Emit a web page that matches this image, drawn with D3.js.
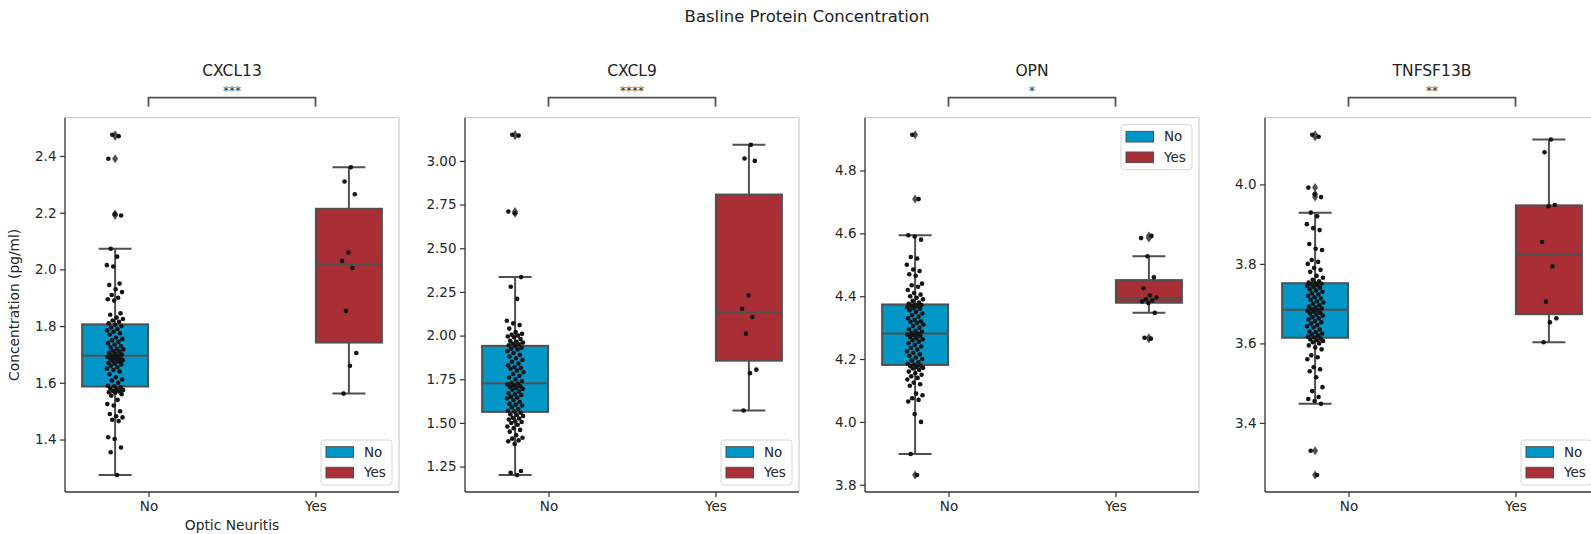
<!DOCTYPE html>
<html>
<head>
<meta charset="utf-8">
<script src="https://cdn.jsdelivr.net/npm/d3@7"></script>
<style>
  body { margin: 0; background: #fff; }
  svg { font-family: 'DejaVu Sans', sans-serif; display: block; }
</style>
</head>
<body>
<svg id="chart"></svg>
<script>
const width = 1591;
const height = 534;

// ---- data ----
const genes = ['CXCL13', 'CXCL9', 'OPN', 'TNFSF13B'];
const signif = ['***', '****', '*', '**'];
const groups = ['No', 'Yes'];

const cxcl13No = [1.275, 1.355, 1.372, 1.402, 1.408, 1.465, 1.47, 1.478, 1.482, 1.49, 1.50, 1.52,
  1.525, 1.54, 1.555, 1.56, 1.565, 1.567, 1.57, 1.572, 1.575, 1.578, 1.58, 1.584,
  1.588, 1.59, 1.6, 1.608, 1.612, 1.62, 1.63, 1.64, 1.645, 1.65, 1.655, 1.66,
  1.665, 1.668, 1.67, 1.675, 1.678, 1.68, 1.683, 1.685, 1.688, 1.69, 1.692, 1.694,
  1.697, 1.70, 1.703, 1.706, 1.71, 1.713, 1.718, 1.72, 1.725, 1.73, 1.735, 1.74,
  1.745, 1.75, 1.755, 1.76, 1.77, 1.775, 1.78, 1.785, 1.79, 1.795, 1.80, 1.805,
  1.81, 1.815, 1.82, 1.825, 1.83, 1.84, 1.845, 1.89, 1.895, 1.90, 1.91, 1.92,
  1.93, 1.945, 1.95, 2.01, 2.015, 2.045, 2.073, 2.19, 2.195, 2.39, 2.47, 2.475];
const cxcl13Yes = [2.36, 2.31, 2.265, 2.06, 2.03, 2.005, 1.853, 1.705, 1.66, 1.562];

const cxcl9No = [1.202, 1.215, 1.225, 1.38, 1.395, 1.40, 1.41, 1.415, 1.43, 1.45, 1.46, 1.47,
  1.48, 1.49, 1.50, 1.505, 1.51, 1.52, 1.525, 1.53, 1.54, 1.545, 1.55, 1.558,
  1.565, 1.57, 1.58, 1.59, 1.60, 1.605, 1.61, 1.62, 1.63, 1.64, 1.645, 1.65,
  1.66, 1.665, 1.67, 1.68, 1.69, 1.695, 1.70, 1.705, 1.71, 1.715, 1.72, 1.725,
  1.73, 1.74, 1.75, 1.76, 1.77, 1.78, 1.79, 1.80, 1.81, 1.815, 1.82, 1.83,
  1.84, 1.85, 1.86, 1.87, 1.88, 1.89, 1.90, 1.91, 1.92, 1.925, 1.93, 1.94,
  1.945, 1.95, 1.955, 1.96, 1.965, 1.97, 1.98, 1.99, 1.995, 2.0, 2.005, 2.01,
  2.02, 2.04, 2.06, 2.07, 2.085, 2.21, 2.28, 2.335, 2.70, 2.71, 3.145, 3.15];
const cxcl9Yes = [3.092, 3.014, 3.0, 2.23, 2.154, 2.106, 2.011, 1.805, 1.785, 1.571];

const opnNo = [3.831, 3.898, 4.0, 4.025, 4.065, 4.07, 4.075, 4.085, 4.09, 4.115, 4.12, 4.125,
  4.135, 4.14, 4.145, 4.15, 4.155, 4.16, 4.165, 4.17, 4.172, 4.175, 4.177, 4.179,
  4.182, 4.185, 4.19, 4.195, 4.2, 4.205, 4.21, 4.215, 4.22, 4.225, 4.23, 4.235,
  4.24, 4.245, 4.25, 4.255, 4.26, 4.263, 4.266, 4.27, 4.273, 4.276, 4.278, 4.28,
  4.283, 4.287, 4.29, 4.295, 4.3, 4.305, 4.31, 4.315, 4.318, 4.32, 4.325, 4.33,
  4.335, 4.34, 4.345, 4.35, 4.355, 4.36, 4.362, 4.365, 4.368, 4.37, 4.372, 4.373,
  4.376, 4.38, 4.385, 4.39, 4.395, 4.40, 4.405, 4.41, 4.42, 4.43, 4.435, 4.44,
  4.465, 4.47, 4.48, 4.485, 4.50, 4.52, 4.525, 4.58, 4.59, 4.594, 4.709, 4.914];
const opnYes = [4.265, 4.268, 4.347, 4.378, 4.383, 4.386, 4.39, 4.396, 4.403, 4.425, 4.46,
  4.527, 4.585, 4.592];

const tnfNo = [3.269, 3.33, 3.448, 3.455, 3.46, 3.465, 3.48, 3.49, 3.515, 3.53, 3.535, 3.54,
  3.56, 3.565, 3.57, 3.585, 3.59, 3.595, 3.60, 3.603, 3.606, 3.608, 3.61, 3.612,
  3.615, 3.617, 3.62, 3.622, 3.625, 3.628, 3.63, 3.635, 3.64, 3.643, 3.646, 3.65,
  3.653, 3.656, 3.66, 3.663, 3.666, 3.67, 3.672, 3.675, 3.677, 3.68, 3.682, 3.683,
  3.686, 3.688, 3.69, 3.693, 3.696, 3.70, 3.703, 3.706, 3.71, 3.713, 3.716, 3.72,
  3.723, 3.726, 3.73, 3.733, 3.736, 3.74, 3.742, 3.745, 3.747, 3.749, 3.75, 3.751,
  3.753, 3.756, 3.76, 3.765, 3.77, 3.78, 3.785, 3.79, 3.80, 3.805, 3.81, 3.835,
  3.838, 3.85, 3.885, 3.89, 3.90, 3.92, 3.929, 3.968, 3.975, 3.992, 4.12, 4.125];
const tnfYes = [4.113, 4.081, 3.948, 3.945, 3.855, 3.794, 3.705, 3.663, 3.653, 3.603];

const yTicks = [
  [1.4, 1.6, 1.8, 2.0, 2.2, 2.4],
  [1.25, 1.5, 1.75, 2.0, 2.25, 2.5, 2.75, 3.0],
  [3.8, 4.0, 4.2, 4.4, 4.6, 4.8],
  [3.4, 3.6, 3.8, 4.0]
];

const panelData = [
  [cxcl13No, cxcl13Yes],
  [cxcl9No, cxcl9Yes],
  [opnNo, opnYes],
  [tnfNo, tnfYes]
];

// ---- layout / style ----
const axTop = 117.7;
const axBottom = 492;
const axWidth = 334;
const firstLeft = 65;
const panelStep = 400;
const colors = ['#0096c8', '#aa2e36'];
const lineGray = '#505050';
const tickFormats = ['.1f', '.2f', '.1f', '.1f'];
const legendAt = ['bottom', 'bottom', 'top', 'bottom'];
const hueOffset = [-0.2, 0.2];
const boxWidth = 0.395;
const jitterWidth = 0.05;

const svg = d3.select('#chart')
  .attr('width', width)
  .attr('height', height);

svg.append('text')
  .attr('x', 807)
  .attr('y', 22)
  .attr('text-anchor', 'middle')
  .attr('font-size', 16.5)
  .attr('fill', '#222')
  .text('Basline Protein Concentration');

// deterministic spread for the strip points (no randomness)
function jitter(i) {
  return ((i * 0.6180339887) % 1) * 2 - 1;
}

function boxStats(values) {
  const s = values.slice().sort(d3.ascending);
  const q1 = d3.quantileSorted(s, 0.25);
  const med = d3.quantileSorted(s, 0.5);
  const q3 = d3.quantileSorted(s, 0.75);
  const iqr = q3 - q1;
  const lo = d3.min(s.filter(v => v >= q1 - 1.5 * iqr));
  const hi = d3.max(s.filter(v => v <= q3 + 1.5 * iqr));
  const fliers = s.filter(v => v < lo || v > hi);
  return {q1, med, q3, lo, hi, fliers};
}

genes.forEach((gene, p) => {
  const left = firstLeft + p * panelStep;
  const g = svg.append('g').attr('transform', `translate(${left},0)`);
  const data = panelData[p];

  const all = data[0].concat(data[1]);
  const ext = d3.extent(all);
  const pad = (ext[1] - ext[0]) * 0.05;

  const x = d3.scaleLinear().domain([-0.5, 1.5]).range([0, axWidth]);
  const y = d3.scaleLinear().domain([ext[0] - pad, ext[1] + pad]).range([axBottom, axTop]);

  // frame: light top/right, dark left/bottom
  g.append('line').attr('x1', 0).attr('x2', axWidth).attr('y1', axTop).attr('y2', axTop)
    .attr('stroke', '#c4c4c4').attr('stroke-width', 1);
  g.append('line').attr('x1', axWidth).attr('x2', axWidth).attr('y1', axTop).attr('y2', axBottom)
    .attr('stroke', '#c4c4c4').attr('stroke-width', 1);

  // boxes
  data.forEach((vals, k) => {
    const st = boxStats(vals);
    const cx = x(k + hueOffset[k]);
    const half = (x(boxWidth) - x(0)) / 2;
    const bg = g.append('g');

    bg.append('line').attr('x1', cx).attr('x2', cx).attr('y1', y(st.hi)).attr('y2', y(st.q3))
      .attr('stroke', lineGray).attr('stroke-width', 2);
    bg.append('line').attr('x1', cx).attr('x2', cx).attr('y1', y(st.q1)).attr('y2', y(st.lo))
      .attr('stroke', lineGray).attr('stroke-width', 2);
    [st.hi, st.lo].forEach(v => {
      bg.append('line').attr('x1', cx - half / 2).attr('x2', cx + half / 2)
        .attr('y1', y(v)).attr('y2', y(v))
        .attr('stroke', lineGray).attr('stroke-width', 2);
    });
    bg.append('rect')
      .attr('x', cx - half).attr('width', half * 2)
      .attr('y', y(st.q3)).attr('height', y(st.q1) - y(st.q3))
      .attr('fill', colors[k]).attr('stroke', lineGray).attr('stroke-width', 2);
    bg.append('line').attr('x1', cx - half).attr('x2', cx + half)
      .attr('y1', y(st.med)).attr('y2', y(st.med))
      .attr('stroke', lineGray).attr('stroke-width', 2);

    bg.selectAll('path.flier')
      .data(st.fliers).enter()
      .append('path')
      .attr('class', 'flier')
      .attr('d', 'M0,-4.5L3,0L0,4.5L-3,0Z')
      .attr('transform', d => `translate(${cx},${y(d)})`)
      .attr('fill', lineGray);
  });

  // strip points on top
  data.forEach((vals, k) => {
    const cx = x(k + hueOffset[k]);
    const jw = x(jitterWidth) - x(0);
    g.selectAll(`circle.pt${k}`)
      .data(vals).enter()
      .append('circle')
      .attr('class', `pt${k}`)
      .attr('cx', (d, i) => cx + jitter(i + 1) * jw)
      .attr('cy', d => y(d))
      .attr('r', 2.3)
      .attr('fill', '#141414');
  });

  // axes
  const yAxis = g.append('g')
    .call(d3.axisLeft(y).tickValues(yTicks[p]).tickFormat(d3.format(tickFormats[p]))
      .tickSize(5).tickPadding(3.5));
  const xAxis = g.append('g').attr('transform', `translate(0,${axBottom})`)
    .call(d3.axisBottom(x).tickValues([0, 1]).tickFormat(d => groups[d])
      .tickSize(5).tickPadding(4.5));
  [yAxis, xAxis].forEach(a => {
    a.select('.domain').remove();
    a.selectAll('line').attr('stroke', '#333').attr('stroke-width', 1.2);
    a.selectAll('text').attr('fill', '#262626').attr('font-size', 13.5)
      .attr('font-family', "'DejaVu Sans', sans-serif");
  });
  g.append('line').attr('x1', 0).attr('x2', 0).attr('y1', axTop).attr('y2', axBottom)
    .attr('stroke', '#333').attr('stroke-width', 1.3);
  g.append('line').attr('x1', 0).attr('x2', axWidth).attr('y1', axBottom).attr('y2', axBottom)
    .attr('stroke', '#333').attr('stroke-width', 1.3);

  // title, bracket, stars
  g.append('text')
    .attr('x', axWidth / 2).attr('y', 76)
    .attr('text-anchor', 'middle').attr('font-size', 15.5).attr('fill', '#222')
    .text(gene);
  const bx0 = x(0), bx1 = x(1);
  g.append('path')
    .attr('d', `M${bx0},106.7V97.7H${bx1}V106.7`)
    .attr('fill', 'none').attr('stroke', '#555').attr('stroke-width', 1.8);
  g.append('text')
    .attr('x', (bx0 + bx1) / 2).attr('y', 95)
    .attr('text-anchor', 'middle').attr('font-size', 12).attr('fill', '#333')
    .text(signif[p]);

  // legend
  const lw = 71, lh = 45;
  const lx = axWidth - 7 - lw;
  const ly = legendAt[p] === 'top' ? axTop + 7 : axBottom - 7 - lh;
  const leg = g.append('g').attr('transform', `translate(${lx},${ly})`);
  leg.append('rect').attr('width', lw).attr('height', lh).attr('rx', 3)
    .attr('fill', 'white').attr('fill-opacity', 0.85)
    .attr('stroke', '#d6d6d6').attr('stroke-width', 1);
  groups.forEach((name, k) => {
    const ry = 6.7 + k * 20.6;
    leg.append('rect').attr('x', 5).attr('y', ry).attr('width', 27.5).attr('height', 10.6)
      .attr('fill', colors[k]).attr('stroke', lineGray).attr('stroke-width', 1);
    leg.append('text').attr('x', 43).attr('y', ry + 10)
      .attr('font-size', 13.5).attr('fill', '#262626').text(name);
  });

  if (p === 0) {
    g.append('text')
      .attr('transform', `translate(-46,${(axTop + axBottom) / 2}) rotate(-90)`)
      .attr('text-anchor', 'middle').attr('font-size', 13.8).attr('fill', '#262626')
      .text('Concentration (pg/ml)');
    g.append('text')
      .attr('x', axWidth / 2).attr('y', 530)
      .attr('text-anchor', 'middle').attr('font-size', 13.8).attr('fill', '#262626')
      .text('Optic Neuritis');
  }
});
</script>
</body>
</html>
